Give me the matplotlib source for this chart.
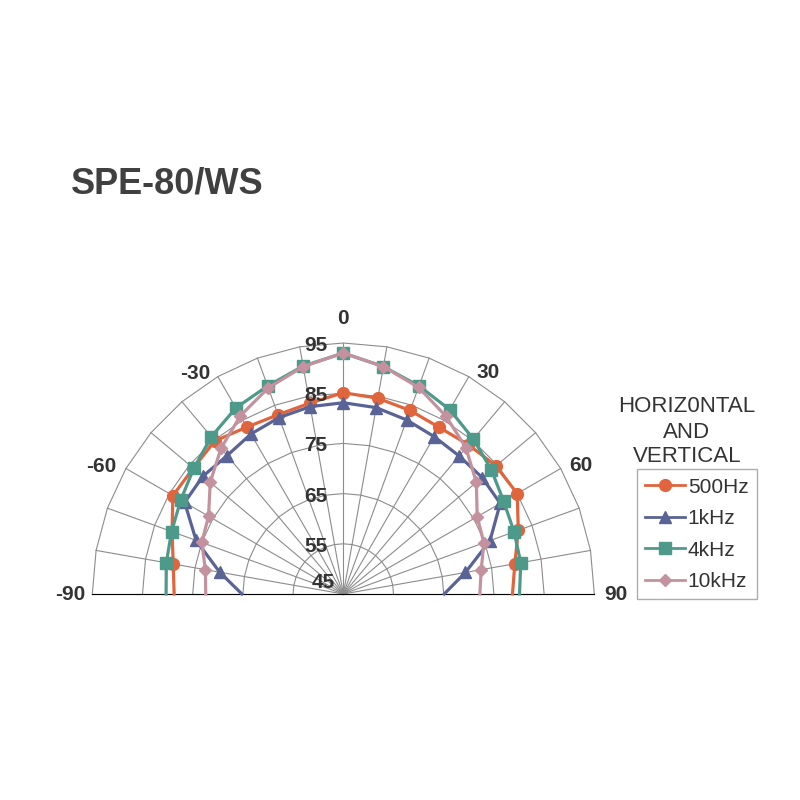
import numpy as np
import matplotlib
matplotlib.use("Agg")
import matplotlib.pyplot as plt
from matplotlib.lines import Line2D

# ---------------- data ----------------
angles = [-90, -80, -70, -60, -50, -40, -30, -20, -10, 0,
          10, 20, 30, 40, 50, 60, 70, 80, 90]
spl_500hz = [78.7, 79.4, 81.3, 84.2, 84.0, 84.8, 83.4, 83.0, 83.6, 85.1,
             84.6, 83.9, 83.3, 83.8, 84.7, 85.0, 82.1, 79.7, 78.7]
spl_1khz = [65.2, 70.0, 76.2, 81.5, 81.5, 81.0, 81.8, 82.4, 82.9, 83.1,
            82.7, 81.9, 81.2, 80.9, 81.1, 81.1, 76.1, 69.7, 65.1]
spl_4khz = [80.3, 80.8, 81.4, 82.4, 83.9, 85.9, 87.8, 89.1, 91.1, 93.0,
            91.0, 89.1, 87.4, 85.3, 83.5, 81.9, 81.2, 80.9, 80.1]
spl_10khz = [72.4, 72.9, 75.0, 76.0, 79.6, 82.9, 86.0, 88.7, 91.0, 93.0,
             91.0, 88.8, 85.9, 83.0, 79.6, 75.8, 74.8, 72.9, 72.2]
series_names = ["500Hz", "1kHz", "4kHz", "10kHz"]
ring_levels = [55, 65, 75, 85, 95]
ring_labels = ["45", "55", "65", "75", "85", "95"]
angle_ticks = [-90, -60, -30, 0, 30, 60, 90]
title = "SPE-80/WS"
legend_title_lines = ["HORIZ0NTAL", "AND", "VERTICAL"]

# ---------------- style ----------------
colors = ["#E0643C", "#5A6396", "#4E9A8A", "#C4929E"]
markers = ["o", "^", "s", "D"]
msizes = [8.5, 9, 8, 6]
grid_color = "#8c8c8c"
text_color = "#333333"
FONT = "Liberation Sans"

fig = plt.figure(figsize=(8, 8), dpi=100)
W = H = 800.0
cx, cy, rad = 343.3, 594.0, 251.0   # target centre / radius in pixels (top-left origin)
pos0 = [(cx - rad) / W, 1 - cy / H, 2 * rad / W, rad / H]
ax = fig.add_axes(pos0, projection="polar")
ax.set_theta_zero_location("N")
ax.set_theta_direction(-1)
ax.set_thetamin(-90)
ax.set_thetamax(90)
ax.set_rlim(45, 95)
ax.grid(False)
ax.set_xticks([])
ax.set_yticks([])
for sp in ax.spines.values():
    sp.set_visible(False)

# fit the half-disc exactly onto the target centre / radius
def fit_axes():
    fig.canvas.draw()
    p = ax.get_position()
    po = ax.get_position(original=True)
    c = ax.transData.transform((0.0, 45.0))
    e = ax.transData.transform((np.pi / 2, 95.0))
    R = np.hypot(*(e - c))
    k = rad / R
    u = (c[0] - p.x0 * W) / (p.width * W)
    v = (c[1] - p.y0 * H) / (p.height * H)
    nw, nh = p.width * k, p.height * k
    nx0 = cx - u * nw * W
    ny0 = (H - cy) - v * nh * H
    dx = (p.x0 - po.x0) * k
    dy = (p.y0 - po.y0) * k
    ax.set_position([nx0 / W - dx, ny0 / H - dy, po.width * k, po.height * k])

for _ in range(3):
    fit_axes()

th = np.deg2rad(angles)

# polygonal web grid
for lvl in ring_levels:
    ax.plot(th, [lvl] * len(th), color=grid_color, lw=0.8, clip_on=False, zorder=1)
for t in th:
    ax.plot([t, t], [45, 95], color=grid_color, lw=0.8, clip_on=False, zorder=1)

# data series
all_series = [spl_500hz, spl_1khz, spl_4khz, spl_10khz]
handles = []
for i, (vals, name) in enumerate(zip(all_series, series_names)):
    ax.plot(th, vals, color=colors[i], lw=2.3, marker=markers[i], ms=msizes[i],
            mfc=colors[i], mec=colors[i], markevery=list(range(1, len(th) - 1)),
            zorder=3 + i, clip_on=False)
    handles.append(Line2D([], [], color=colors[i], lw=2.0, marker=markers[i],
                          ms=msizes[i], mfc=colors[i], mec=colors[i]))

# radial labels (left of the 0 spoke)
for lab in ring_labels:
    r = float(lab)
    if r == 45:
        off = (-5.8, 4.0)
    else:
        off = (-11.5, -5.8)
    ax.annotate(lab, xy=(0, r), xytext=off, textcoords="offset points",
                ha="right", va="baseline", fontsize=15, fontweight="bold",
                color=text_color, family=FONT, annotation_clip=False, zorder=10)

# angle labels
angle_label_pos = {-90: (-90, 99.4), -60: (-62.2, 99.5), -30: (-33.9, 98.0),
                   0: (0, 99.8), 30: (33.2, 97.7), 60: (61.7, 98.8), 90: (90, 99.3)}
for a in angle_ticks:
    ta, ra = angle_label_pos[a]
    ax.text(np.deg2rad(ta), ra, str(a), ha="center", va="center", fontsize=15,
            fontweight="bold", color=text_color, family=FONT, clip_on=False)

# title
fig.text(71 / W, 1 - 194 / H, title, ha="left", va="baseline", fontsize=26,
         fontweight="bold", color="#404040", family=FONT)

# legend title lines
for line, base in zip(legend_title_lines, [412, 437.5, 462]):
    fig.text(687 / W, 1 - base / H, line, ha="center", va="baseline",
             fontsize=16, color=text_color, family=FONT)

leg = fig.legend(handles, series_names, loc="upper left",
                 bbox_to_anchor=(636.7 / W, 1 - 469.3 / H),
                 frameon=True, fancybox=False, shadow=False,
                 prop={"family": FONT, "size": 15},
                 handlelength=1.9, handletextpad=0.15, labelspacing=0.6,
                 borderpad=0.4, borderaxespad=0.0)
leg.get_frame().set_edgecolor("#999999")
leg.get_frame().set_linewidth(1.0)
for t in leg.get_texts():
    t.set_color(text_color)

fig.savefig("out.png", dpi=100, facecolor="white")
